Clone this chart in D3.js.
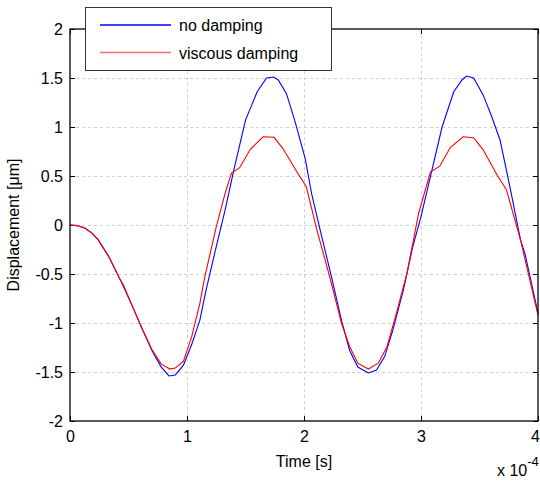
<!DOCTYPE html>
<html><head><meta charset="utf-8">
<script src="https://cdn.jsdelivr.net/npm/d3@7"></script>
<style>body{margin:0;background:#fff}svg{display:block}text{font-family:"Liberation Sans",Arial,sans-serif;fill:#000}</style>
</head><body><svg id="c" width="540" height="481"></svg>
<script>
const xTicks = [0, 1, 2, 3, 4];
const yTicks = [-2, -1.5, -1, -0.5, 0, 0.5, 1, 1.5, 2];
const seriesNames = ["no damping", "viscous damping"];
const seriesColors = ["#0000ff", "#ff0000"];
const tNoDamp = [0,0.06,0.13,0.19,0.24,0.33,0.43,0.53,0.61,0.70,0.78,0.846,0.90,0.97,1.04,1.11,1.16,1.25,1.325,1.40,1.50,1.60,1.68,1.74,1.78,1.85,1.92,2.01,2.065,2.14,2.235,2.32,2.39,2.46,2.55,2.62,2.69,2.76,2.85,2.93,3.0,3.08,3.18,3.28,3.35,3.39,3.45,3.53,3.60,3.675,3.76,3.85,3.89,4.0];
const yNoDamp = [0,-0.006,-0.034,-0.085,-0.15,-0.32,-0.56,-0.82,-1.04,-1.28,-1.45,-1.54,-1.53,-1.43,-1.22,-0.97,-0.68,-0.22,0.15,0.56,1.07,1.36,1.50,1.51,1.48,1.34,1.07,0.68,0.32,-0.06,-0.53,-0.97,-1.28,-1.45,-1.51,-1.48,-1.34,-1.07,-0.66,-0.22,0.085,0.49,1.0,1.36,1.48,1.52,1.50,1.33,1.12,0.87,0.39,-0.15,-0.30,-0.90];
const tVisc = [0,0.06,0.13,0.19,0.24,0.33,0.43,0.456,0.53,0.61,0.70,0.78,0.855,0.90,0.97,1.04,1.11,1.15,1.25,1.325,1.38,1.45,1.54,1.65,1.745,1.82,1.94,2.02,2.11,2.22,2.32,2.39,2.46,2.55,2.635,2.71,2.79,2.88,2.98,3.08,3.16,3.25,3.36,3.45,3.53,3.65,3.73,3.85,4.0];
const yVisc = [0,-0.006,-0.034,-0.085,-0.15,-0.32,-0.56,-0.61,-0.82,-1.04,-1.27,-1.42,-1.47,-1.46,-1.39,-1.14,-0.80,-0.54,-0.02,0.32,0.53,0.585,0.77,0.90,0.895,0.78,0.54,0.39,-0.05,-0.53,-1.0,-1.24,-1.41,-1.47,-1.41,-1.24,-0.90,-0.49,0.12,0.54,0.60,0.79,0.90,0.89,0.77,0.51,0.36,-0.15,-0.92];

const svg = d3.select("#c");
const L = 70, R = 538, T = 29, B = 421;
const x = d3.scaleLinear().domain([0, 4]).range([L, R]);
const y = d3.scaleLinear().domain([-2, 2]).range([B, T]);

// grid
const g = svg.append("g");
g.selectAll(".gx").data(xTicks.slice(1, -1)).join("line")
  .attr("x1", d => x(d) + 0.5).attr("x2", d => x(d) + 0.5).attr("y1", T).attr("y2", B)
  .attr("stroke", "#d0d0d0").attr("stroke-dasharray", "3,3").attr("stroke-width", 1);
g.selectAll(".gy").data(yTicks.slice(1, -1)).join("line")
  .attr("y1", d => Math.round(y(d)) + 0.5).attr("y2", d => Math.round(y(d)) + 0.5).attr("x1", L).attr("x2", R)
  .attr("stroke", "#d0d0d0").attr("stroke-dasharray", "3,3").attr("stroke-width", 1);

// axes
const ax = svg.append("g").attr("transform", `translate(0,${B})`)
  .call(d3.axisBottom(x).tickValues(xTicks).tickSize(-5).tickPadding(10).tickFormat(d3.format("d")));
const ay = svg.append("g").attr("transform", `translate(${L},0)`)
  .call(d3.axisLeft(y).tickValues(yTicks).tickSize(-5).tickPadding(7).tickFormat(d => String(d)));
const axT = svg.append("g").attr("transform", `translate(0,${T})`)
  .call(d3.axisTop(x).tickValues(xTicks).tickSize(-5).tickFormat(""));
const ayR = svg.append("g").attr("transform", `translate(${R},0)`)
  .call(d3.axisRight(y).tickValues(yTicks).tickSize(-5).tickFormat(""));
[ax, ay, axT, ayR].forEach(a => {
  a.select(".domain").remove();
  a.selectAll("line").attr("stroke", "#000");
  a.selectAll("text").style("font-size", "16px").style("font-family", '"Liberation Sans",Arial,sans-serif');
});
ax.selectAll("text").filter(d => d === 4).attr("dx", -3);

// series
const line = d3.line().x(d => x(d[0])).y(d => y(d[1]));
const dataNo = tNoDamp.map((t, i) => [t, yNoDamp[i]]);
const dataVi = tVisc.map((t, i) => [t, yVisc[i]]);
svg.append("path").datum(dataNo).attr("d", line).attr("fill", "none").attr("stroke", seriesColors[0]).attr("stroke-width", 1.1);
svg.append("path").datum(dataVi).attr("d", line).attr("fill", "none").attr("stroke", seriesColors[1]).attr("stroke-width", 1.1);

// box
svg.append("rect").attr("x", L).attr("y", T).attr("width", R - L).attr("height", B - T)
  .attr("fill", "none").attr("stroke", "#000").attr("stroke-width", 1.3);

// axis labels
svg.append("text").attr("x", 304).attr("y", 467).attr("text-anchor", "middle").style("font-size", "16px").text("Time [s]");
svg.append("text").attr("transform", "translate(19,225) rotate(-90)").attr("text-anchor", "middle").style("font-size", "16px")
  .text("Displacement [\u03bcm]");
const ex = svg.append("text").attr("x", 497).attr("y", 476).style("font-size", "16px");
ex.append("tspan").text("x 10");
ex.append("tspan").attr("dy", -10).style("font-size", "13px").text("-4");

// legend
const lg = svg.append("g");
lg.append("rect").attr("x", 85.5).attr("y", 7.5).attr("width", 246).attr("height", 63)
  .attr("fill", "#fff").attr("stroke", "#333").attr("stroke-width", 1);
seriesNames.forEach((n, i) => {
  const yy = 25 + i * 27.5;
  lg.append("line").attr("x1", 100).attr("x2", 171).attr("y1", yy).attr("y2", yy)
    .attr("stroke", i === 0 ? seriesColors[0] : "#ff6a6a").attr("stroke-width", 1.3);
  lg.append("text").attr("x", 179).attr("y", yy + 6).style("font-size", "16px").text(n);
});
</script></body></html>
